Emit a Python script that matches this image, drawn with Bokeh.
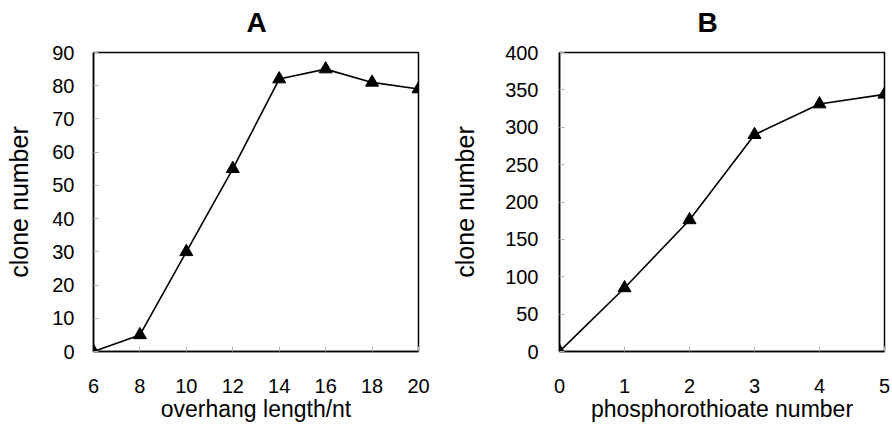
from bokeh.plotting import figure
from bokeh.layouts import row
from bokeh.models import FixedTicker, Title
from bokeh.embed import file_html
from bokeh.resources import INLINE

# Panel A data
overhang_length = [6, 8, 10, 12, 14, 16, 18, 20]
clone_a = [0, 5, 30, 55, 82, 85, 81, 79]
a_xticks = [6, 8, 10, 12, 14, 16, 18, 20]
a_yticks = [0, 10, 20, 30, 40, 50, 60, 70, 80, 90]

# Panel B data
phospho_number = [0, 1, 2, 3, 4, 5]
clone_b = [0, 85, 176, 290, 331, 344]
b_xticks = [0, 1, 2, 3, 4, 5]
b_yticks = [0, 50, 100, 150, 200, 250, 300, 350, 400]

FONT = "Liberation Sans"


def make_panel(title, xs, ys, xr, yr, xt, yt, xlabel, width, bl, br, toff, ystand, ylstand):
    p = figure(width=width, height=433, x_range=xr, y_range=yr,
               output_backend="svg", toolbar_location=None,
               min_border_left=bl, min_border_right=br,
               min_border_top=52, min_border_bottom=82)
    p.title.visible = False
    # small spacer panel between the frame and the title (first added = closest to frame)
    p.add_layout(Title(text=" ", text_font=FONT, text_font_size="10px", standoff=0), "above")
    p.add_layout(Title(text=title, align="left", offset=toff, text_font=FONT,
                       text_font_size="28px", text_font_style="bold",
                       text_color="black", standoff=4), "above")
    p.grid.visible = False
    p.outline_line_color = "black"
    p.outline_line_width = 1.5
    p.outline_line_alpha = 1.0
    p.background_fill_color = "white"
    p.border_fill_color = "white"
    for ax in (p.xaxis[0], p.yaxis[0]):
        ax.axis_line_color = "black"
        ax.axis_line_width = 1.5
        ax.major_tick_line_color = "#b0b0b0"
        ax.major_tick_line_width = 1
        ax.major_tick_in = 5
        ax.major_tick_out = 0
        ax.minor_tick_line_color = None
        ax.major_label_text_font = FONT
        ax.major_label_text_font_size = "20px"
        ax.major_label_text_color = "black"
        ax.axis_label_text_font = FONT
        ax.axis_label_text_font_style = "normal"
        ax.axis_label_text_color = "black"
    p.xaxis.axis_label_text_font_size = "23px"
    p.yaxis.axis_label_text_font_size = "25px"
    p.xaxis.ticker = FixedTicker(ticks=xt)
    p.yaxis.ticker = FixedTicker(ticks=yt)
    p.xaxis.axis_label = xlabel
    p.yaxis.axis_label = "clone number"
    p.xaxis.major_label_standoff = 27
    p.xaxis.axis_label_standoff = 0
    p.yaxis.major_label_standoff = ystand
    p.yaxis.axis_label_standoff = ylstand
    p.line(xs, ys, line_color="black", line_width=1.6)
    p.scatter(xs, ys, marker="triangle", size=13, fill_color="black", line_color="black")
    return p


pa = make_panel("A", overhang_length, clone_a, (6, 20), (0, 90), a_xticks, a_yticks,
                "overhang length/nt", 446, 93, 28, 153, 19, 16)
pb = make_panel("B", phospho_number, clone_b, (0, 5), (0, 400), b_xticks, b_yticks,
                "phosphorothioate number", 446, 113, 8, 138, 21, 23)

layout = row(pa, pb)
open("out.html", "w").write(file_html(layout, INLINE))
